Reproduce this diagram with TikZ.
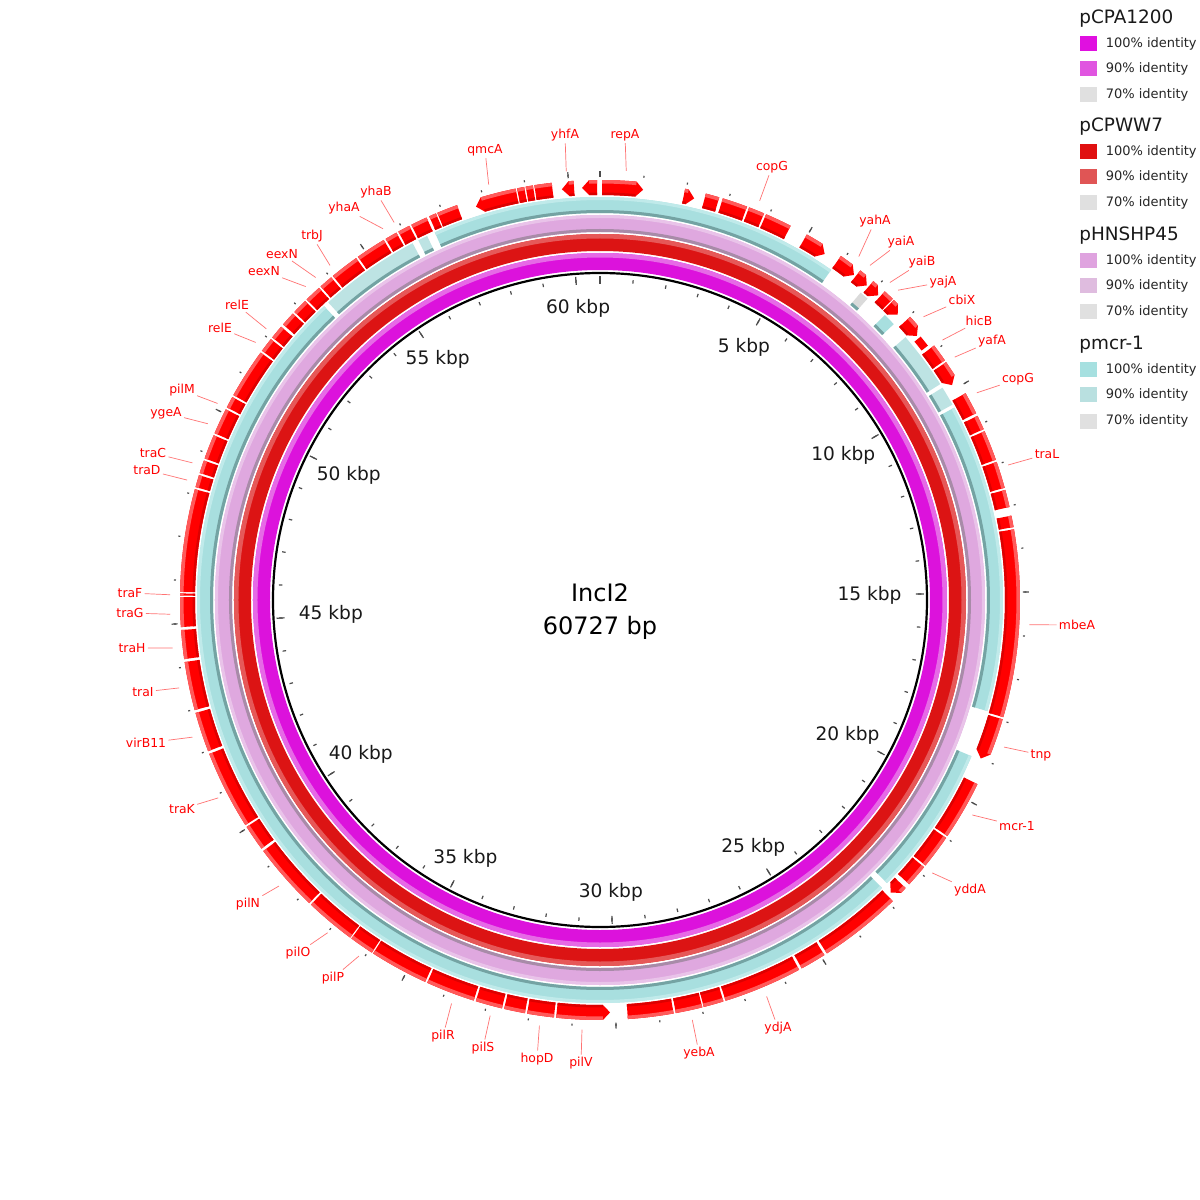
\documentclass[tikz,border=0pt]{standalone}
\usepackage{fontspec}
\setmainfont{DejaVu Sans}
\usetikzlibrary{positioning}

\definecolor{magR}{HTML}{DC12DC}
\definecolor{magL}{HTML}{E66AE6}
\definecolor{redR}{HTML}{DC1414}
\definecolor{redL}{HTML}{E65858}
\definecolor{pinkR}{HTML}{DFA8DF}
\definecolor{pinkD}{HTML}{A88BA8}
\definecolor{pinkL}{HTML}{E9C3E9}
\definecolor{cyanR}{HTML}{A8DFDF}
\definecolor{cyanD}{HTML}{74A3A3}
\definecolor{cyanL}{HTML}{C0EAEA}
\definecolor{cyanN}{HTML}{BDE3E3}
\definecolor{grey70}{HTML}{DADADA}
\definecolor{genered}{HTML}{FF0000}
\definecolor{genedark}{HTML}{DD0000}
\definecolor{genelight}{HTML}{FF5A5A}
\definecolor{linered}{HTML}{FF7373}
\definecolor{lgmagA}{HTML}{E010E0}
\definecolor{lgmagB}{HTML}{E055E0}
\definecolor{lgredA}{HTML}{E01010}
\definecolor{lgredB}{HTML}{E05555}
\definecolor{lgpinkA}{HTML}{DFA3DF}
\definecolor{lgpinkB}{HTML}{DFBCDF}
\definecolor{lgcyanA}{HTML}{A6E0E0}
\definecolor{lgcyanB}{HTML}{B9E0E0}
\definecolor{lggrey}{HTML}{E0E0E0}

% angles: degrees clockwise from the top
\newcommand{\arcband}[5]{\fill[#1] ({90-(#2)}:#4) arc[start angle={90-(#2)}, end angle={90-(#3)}, radius=#4] -- ({90-(#3)}:#5) arc[start angle={90-(#3)}, end angle={90-(#2)}, radius=#5] -- cycle;}
\newcommand{\geneblock}[2]{\arcband{genered}{#1}{#2}{405}{420}\arcband{genedark}{#1}{#2}{405}{407.5}\arcband{genelight}{#1}{#2}{416.5}{420}}
\newcommand{\genefwd}[2]{\fill[genered] ({90-(#1)}:405) arc[start angle={90-(#1)}, end angle={90-(#2)+1}, radius=405] -- ({90-(#2)}:412.5) -- ({90-(#2)+1}:420) arc[start angle={90-(#2)+1}, end angle={90-(#1)}, radius=420] -- cycle;\arcband{genedark}{#1}{#2-1}{405}{407.5}\arcband{genelight}{#1}{#2-1}{416.5}{420}}
\newcommand{\generev}[2]{\fill[genered] ({90-(#1)-1}:405) arc[start angle={90-(#1)-1}, end angle={90-(#2)}, radius=405] -- ({90-(#2)}:420) arc[start angle={90-(#2)}, end angle={90-(#1)-1}, radius=420] -- ({90-(#1)}:412.5) -- cycle;\arcband{genedark}{#1+1}{#2}{405}{407.5}\arcband{genelight}{#1+1}{#2}{416.5}{420}}

\begin{document}
\begin{tikzpicture}[x=0.5pt,y=0.5pt,
    tick/.style={draw=black!70,line width=0.6pt},
    kbplabel/.style={inner sep=0pt,font=\fontsize{9.3}{11}\selectfont,text=black!90},
    genelabel/.style={inner sep=1pt,font=\fontsize{6.2}{7}\selectfont,text=genered},
    labelline/.style={draw=linered,line width=0.35pt},
    legtitle/.style={anchor=west,inner sep=0pt,font=\fontsize{9.2}{11}\selectfont,text=black!90},
    legitem/.style={inner sep=0pt,font=\fontsize{6.5}{8}\selectfont,text=black!85},
    swatch/.style={inner sep=0pt,minimum width=8.5pt,minimum height=7.5pt}]
    \fill[white] (-600,-600) rectangle (600,600);
    \useasboundingbox (-600,-600) rectangle (600,600);

    % identity rings
    \arcband{magR}{0}{360}{330}{347}
    \arcband{magL}{0}{360}{342.5}{347}
    \arcband{redR}{0}{360}{349}{366}
    \arcband{redL}{0}{360}{361.5}{366}
    \arcband{pinkR}{0}{360}{368}{385}
    \arcband{pinkD}{0}{360}{368}{371}
    \arcband{pinkL}{0}{360}{382}{385}
    \foreach \a/\b/\c in {-24.2/35.0/cyanR, 61.5/106.0/cyanR, 112.8/134.6/cyanR,
        135.6/316.8/cyanR, 317.6/332.3/cyanN, 333.2/334.6/cyanN, 45.0/46.8/cyanR,
        49.3/57.6/cyanN, 58.2/61.0/cyanN, 40.3/41.6/grey70} {
      \arcband{\c}{\a}{\b}{387}{403}
      \arcband{cyanD}{\a}{\b}{387}{390}
    }
    \foreach \a/\b in {-24.2/35.0, 61.5/106.0, 112.8/134.6, 135.6/316.8} {
      \arcband{cyanL}{\a}{\b}{400}{403}
    }

    % genes
    \foreach \a/\b in {-66.6/-63.0, -62.7/-61.1, -60.8/-53.9, -53.6/-51.6, -51.3/-49.4,
        -49.0/-47.0, -46.7/-44.6, -44.3/-42.0, -41.7/-39.8, -39.5/-35.5, -35.2/-31.0,
        -30.7/-29.0, -28.7/-27.0, -26.7/-24.4, -24.0/-23.0, -22.8/-19.9, -11.4/-10.4,
        -10.2/-9.2, -9.0/-6.6, 14.6/16.5, 17.0/20.5, 20.8/23.0, 23.3/27.0, 42.7/44.2,
        52.7/55.2, 60.5/63.6, 64.0/66.0, 66.3/70.5, 70.8/74.5, 74.8/77.2, 78.4/80.0,
        80.3/106.2, 116.0/124.2, 124.5/129.2, 129.5/132.6, 135.8/147.3, 147.7/151.3,
        151.7/162.6, 162.9/165.7, 165.9/169.6, 169.9/176.2, 186.3/190.0, 190.3/193.2,
        193.5/197.2, 197.5/204.3, 204.6/212.7, 212.9/216.3, 216.5/223.5, 223.8/233.3,
        233.7/237.3, 237.6/248.5, 248.9/254.4, 254.8/261.5, 261.9/265.9, 266.3/270.4,
        270.6/270.9, 271.1/285.3, 285.6/287.3, 287.6/289.4, 289.7/293.1} {
      \geneblock{\a}{\b}
    }
    \foreach \a/\b in {0.3/6.0, 11.7/13.2, 29.5/33.0, 35.0/38.0, 38.3/40.3, 40.6/42.4,
        44.4/46.2, 47.6/50.2, 55.5/58.6, 106.5/112.6, 133.3/135.2} {
      \genefwd{\a}{\b}
    }
    \foreach \a/\b in {-17.5/-11.6, -5.3/-3.6, -2.5/-0.4, 178.6/186.0} {
      \generev{\a}{\b}
    }
    \arcband{genered}{50.6}{52.2}{407}{415}

    % scale
    \draw[line width=1.1pt] (0,0) circle[radius=327];
    \foreach \k in {0,...,60} {
      \draw[tick] ({90-\k*5.92817}:318) -- ({90-\k*5.92817}:321.5);
      \draw[tick] ({90-\k*5.92817}:424.5) -- ({90-\k*5.92817}:426.5);
    }
    \foreach \k in {0,5,...,60} {
      \draw[tick] ({90-\k*5.92817}:316) -- ({90-\k*5.92817}:324);
      \draw[tick] ({90-\k*5.92817}:423) -- ({90-\k*5.92817}:429);
    }
    \foreach \k in {5,10,...,60} {
      \pgfmathsetmacro\ang{90-\k*5.92817}
      \node[kbplabel, anchor=\ang] (k\k) at (\ang:302) {\k\ kbp};
    }

    \node[anchor=base, inner sep=0pt, font=\fontsize{12}{14}\selectfont] (plasmid) at (0,-1) {IncI2};
    \node[anchor=base, inner sep=0pt, font=\fontsize{12}{14}\selectfont] (length) at (0,-34) {60727 bp};

    % gene labels
    \foreach \txt/\ang/\lx/\ly [count=\i] in {qmcA/345/-115/450, yhfA/355.5/-35/465,
        repA/3.5/25/465, copG/21.8/172/433, yahA/37/275/379, yaiA/38.9/301/358,
        yaiB/42.4/322/338, yajA/43.9/343/318, cbiX/48.8/362/300, hicB/52.8/379/279,
        yafA/55.6/392/259, copG/61.2/418/221, traL/71.7/447/146, mbeA/93.3/477/-25,
        tnp/110/441/-155, mcr-1/120/417/-226, yddA/129.4/370/-290, ydjA/157.2/178/-428,
        yebA/167.6/99/-453, pilV/182.4/-19/-463, hopD/188.1/-63/-459, pilS/194.8/-117/-448,
        pilR/200.2/-157/-436, pilP/214.1/-267/-378, pilO/219.3/-302/-353,
        pilN/228.3/-352/-304, traK/242.6/-418/-209, virB11/251.4/-454/-143,
        traI/258.2/-457/-92, traH/263.6/-468/-48, traG/268.1/-470/-13, traF/270.7/-470/7,
        traD/286.2/-453/130, traC/288.6/-447/147, ygeA/294.2/-434/187, pilM/297.2/-418/210,
        relE/306.8/-380/272, relE/309.1/-363/295, eexN/316.8/-336/329, eexN/318.6/-318/346,
        trbJ/321.1/-288/364, yhaA/329.7/-256/392, yhaB/331.4/-224/408} {
      \coordinate (g\i) at ({90-\ang}:430);
      \node[genelabel] (l\i) at (\lx,\ly) {\txt};
      \draw[labelline] (g\i) -- (l\i);
    }

    % legend
    \foreach \nm/\ya/\ca/\cb [count=\g] in {pCPA1200/581/lgmagA/lgmagB,
        pCPWW7/473/lgredA/lgredB, pHNSHP45/364/lgpinkA/lgpinkB, pmcr-1/255/lgcyanA/lgcyanB} {
      \node[legtitle] (t\g) at (479,\ya) {\nm};
      \node[swatch, fill=\ca] (s\g-a) at (488.5,\ya-25) {};
      \node[swatch, fill=\cb] (s\g-b) at (488.5,\ya-50) {};
      \node[swatch, fill=lggrey] (s\g-c) at (488.5,\ya-76) {};
      \node[legitem, right=4pt of s\g-a] (i\g-a) {100\% identity};
      \node[legitem, right=4pt of s\g-b] (i\g-b) {90\% identity};
      \node[legitem, right=4pt of s\g-c] (i\g-c) {70\% identity};
    }
\end{tikzpicture}
\end{document}
